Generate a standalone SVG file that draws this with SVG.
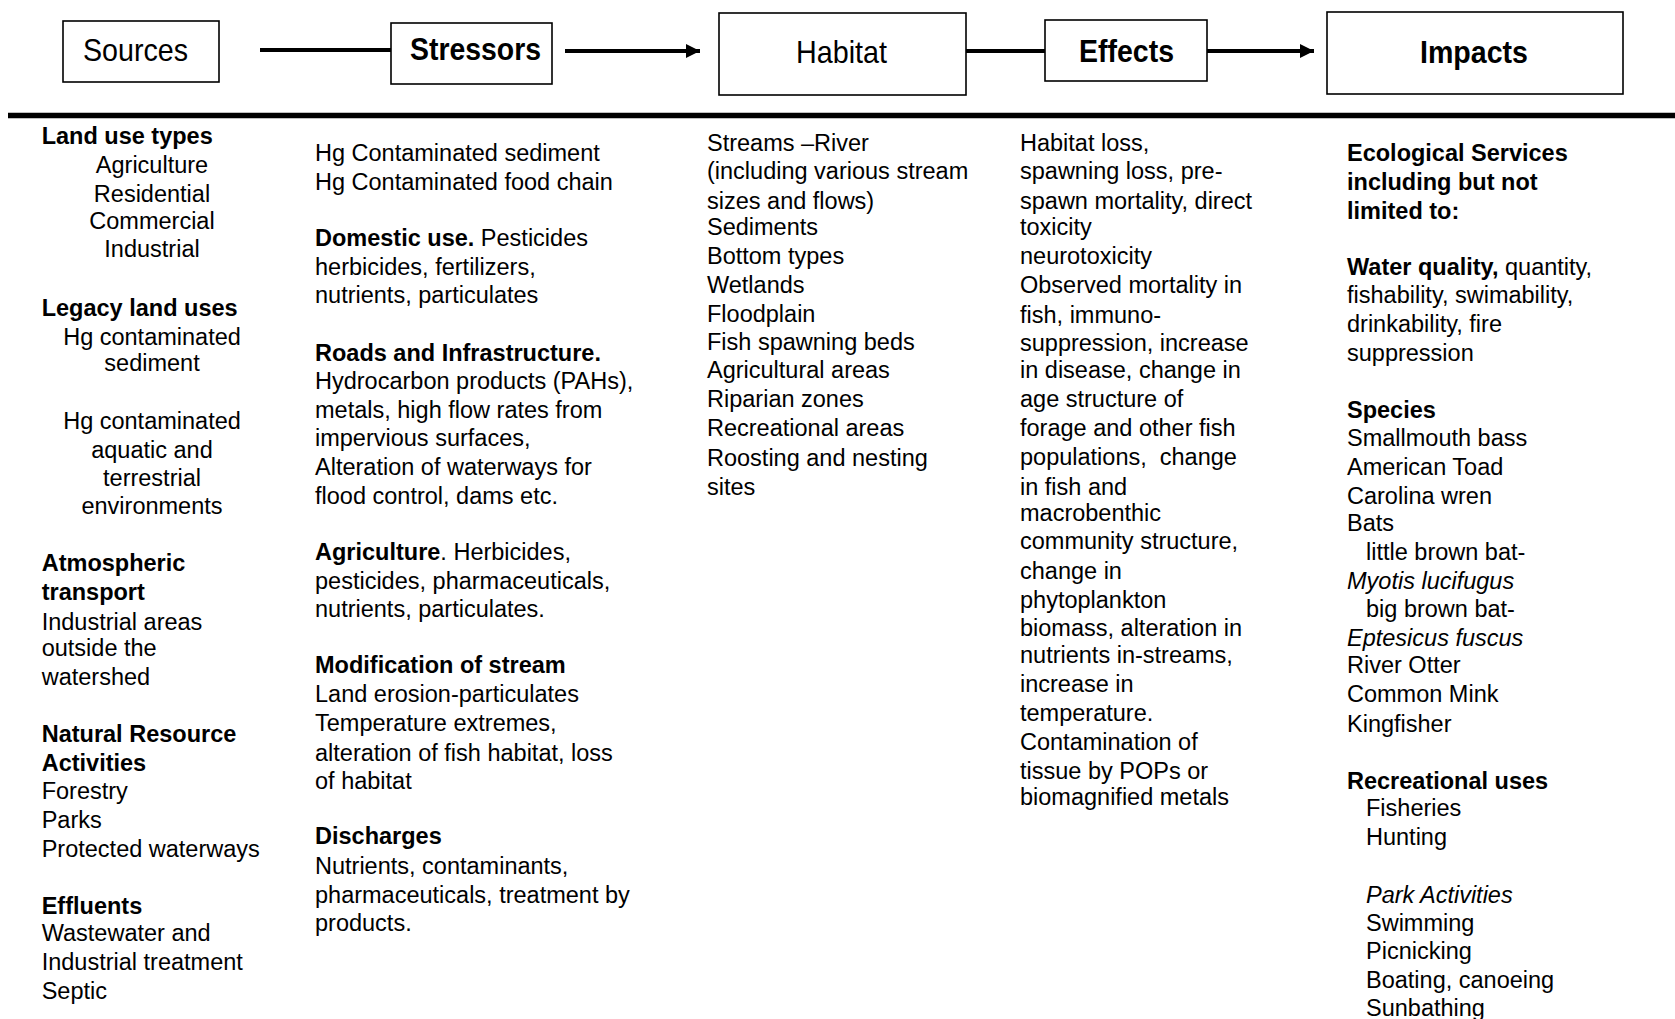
<svg xmlns="http://www.w3.org/2000/svg" width="1675" height="1019" viewBox="0 0 1675 1019">
<defs>
<style>
.bx{fill:#fff;stroke:#000;stroke-width:1.6}
.h{font-family:"Liberation Sans",Arial,sans-serif;font-size:32px;fill:#000}
.t{font-family:"Liberation Sans",Arial,sans-serif;font-size:23.5px;fill:#000}
.b{font-weight:bold}
.i{font-style:italic}
.c{text-anchor:middle}
.ln{stroke:#000;stroke-width:4;fill:none}
</style>
<marker id="ah" markerUnits="userSpaceOnUse" markerWidth="16" markerHeight="16" refX="14" refY="7" orient="auto">
<path d="M0,0 L14,7 L0,14 Z" fill="#000"/>
</marker>
</defs>
<rect width="1675" height="1019" fill="#fff"/>

<g id="connectors">
<line class="ln" x1="260" y1="50" x2="391" y2="50"/>
<line class="ln" x1="565" y1="51" x2="700" y2="51" marker-end="url(#ah)"/>
<line class="ln" x1="966" y1="51" x2="1045" y2="51"/>
<line class="ln" x1="1207" y1="51" x2="1314" y2="51" marker-end="url(#ah)"/>
<line x1="8" y1="115.5" x2="1675" y2="115.5" stroke="#000" stroke-width="5.5"/>
</g>

<g id="node-sources">
<rect class="bx" x="63" y="21" width="156" height="61"/>
<text class="h" x="83" y="61" textLength="105" lengthAdjust="spacingAndGlyphs">Sources</text>
</g>
<g id="node-stressors">
<rect class="bx" x="391" y="23" width="161" height="61"/>
<text class="h b" x="410" y="60" textLength="131" lengthAdjust="spacingAndGlyphs">Stressors</text>
</g>
<g id="node-habitat">
<rect class="bx" x="719" y="13" width="247" height="82"/>
<text class="h" x="796" y="63" textLength="91" lengthAdjust="spacingAndGlyphs">Habitat</text>
</g>
<g id="node-effects">
<rect class="bx" x="1045" y="20" width="162" height="61"/>
<text class="h b" x="1079" y="62" textLength="95" lengthAdjust="spacingAndGlyphs">Effects</text>
</g>
<g id="node-impacts">
<rect class="bx" x="1327" y="12" width="296" height="82"/>
<text class="h b" x="1420" y="63" textLength="108" lengthAdjust="spacingAndGlyphs">Impacts</text>
</g>

<g id="col-sources" transform="translate(0,1)">
<text class="t b" x="41.7" y="143.1">Land use types</text>
<text class="t c" x="152" y="172">Agriculture</text>
<text class="t c" x="152" y="200.8">Residential</text>
<text class="t c" x="152" y="227.5">Commercial</text>
<text class="t c" x="152" y="256.4">Industrial</text>
<text class="t b" x="41.7" y="315.1">Legacy land uses</text>
<text class="t c" x="152" y="344">Hg contaminated</text>
<text class="t c" x="152" y="369.6">sediment</text>
<text class="t c" x="152" y="428.3">Hg contaminated</text>
<text class="t c" x="152" y="457.2">aquatic and</text>
<text class="t c" x="152" y="485">terrestrial</text>
<text class="t c" x="152" y="512.7">environments</text>
<text class="t b" x="41.7" y="570.4">Atmospheric</text>
<text class="t b" x="41.7" y="599.3">transport</text>
<text class="t" x="41.7" y="629.2">Industrial areas</text>
<text class="t" x="41.7" y="654.8">outside the</text>
<text class="t" x="41.7" y="683.6">watershed</text>
<text class="t b" x="41.7" y="741.3">Natural Resource</text>
<text class="t b" x="41.7" y="770.2">Activities</text>
<text class="t" x="41.7" y="797.9">Forestry</text>
<text class="t" x="41.7" y="826.8">Parks</text>
<text class="t" x="41.7" y="855.6">Protected waterways</text>
<text class="t b" x="41.7" y="913.3">Effluents</text>
<text class="t" x="41.7" y="940">Wastewater and</text>
<text class="t" x="41.7" y="968.9">Industrial treatment</text>
<text class="t" x="41.7" y="997.7">Septic</text>
</g>

<g id="col-stressors" transform="translate(0,1)">
<text class="t" x="315" y="160.2">Hg Contaminated sediment</text>
<text class="t" x="315" y="189.1">Hg Contaminated food chain</text>
<text class="t" x="315" y="244.6"><tspan class="b">Domestic use.</tspan> Pesticides</text>
<text class="t" x="315" y="273.5">herbicides, fertilizers,</text>
<text class="t" x="315" y="302.3">nutrients, particulates</text>
<text class="t b" x="315" y="360">Roads and Infrastructure.</text>
<text class="t" x="315" y="387.8">Hydrocarbon products (PAHs),</text>
<text class="t" x="315" y="416.6">metals, high flow rates from</text>
<text class="t" x="315" y="445.4">impervious surfaces,</text>
<text class="t" x="315" y="474.3">Alteration of waterways for</text>
<text class="t" x="315" y="503.1">flood control, dams etc.</text>
<text class="t" x="315" y="558.7"><tspan class="b">Agriculture</tspan>. Herbicides,</text>
<text class="t" x="315" y="587.5">pesticides, pharmaceuticals,</text>
<text class="t" x="315" y="616.4">nutrients, particulates.</text>
<text class="t b" x="315" y="671.9">Modification of stream</text>
<text class="t" x="315" y="700.7">Land erosion-particulates</text>
<text class="t" x="315" y="729.6">Temperature extremes,</text>
<text class="t" x="315" y="759.5">alteration of fish habitat, loss</text>
<text class="t" x="315" y="788.3">of habitat</text>
<text class="t b" x="315" y="842.8">Discharges</text>
<text class="t" x="315" y="872.7">Nutrients, contaminants,</text>
<text class="t" x="315" y="901.6">pharmaceuticals, treatment by</text>
<text class="t" x="315" y="930.4">products.</text>
</g>

<g id="col-habitat" transform="translate(0,1)">
<text class="t" x="707" y="149.5">Streams –River</text>
<text class="t" x="707" y="178.4">(including various stream</text>
<text class="t" x="707" y="208.3">sizes and flows)</text>
<text class="t" x="707" y="233.9">Sediments</text>
<text class="t" x="707" y="262.8">Bottom types</text>
<text class="t" x="707" y="291.6">Wetlands</text>
<text class="t" x="707" y="320.5">Floodplain</text>
<text class="t" x="707" y="349.3">Fish spawning beds</text>
<text class="t" x="707" y="377.1">Agricultural areas</text>
<text class="t" x="707" y="405.9">Riparian zones</text>
<text class="t" x="707" y="434.8">Recreational areas</text>
<text class="t" x="707" y="464.7">Roosting and nesting</text>
<text class="t" x="707" y="493.5">sites</text>
</g>

<g id="col-effects" transform="translate(0,1)">
<text class="t" x="1020" y="149.5">Habitat loss,</text>
<text class="t" x="1020" y="178.4">spawning loss, pre-</text>
<text class="t" x="1020" y="208.3">spawn mortality, direct</text>
<text class="t" x="1020" y="234">toxicity</text>
<text class="t" x="1020" y="263">neurotoxicity</text>
<text class="t" x="1020" y="291.6">Observed mortality in</text>
<text class="t" x="1020" y="321.5">fish, immuno-</text>
<text class="t" x="1020" y="350.4">suppression, increase</text>
<text class="t" x="1020" y="377.1">in disease, change in</text>
<text class="t" x="1020" y="405.9">age structure of</text>
<text class="t" x="1020" y="434.8">forage and other fish</text>
<text class="t" x="1020" y="463.6">populations,&#160; change</text>
<text class="t" x="1020" y="493.5">in fish and</text>
<text class="t" x="1020" y="520.2">macrobenthic</text>
<text class="t" x="1020" y="548">community structure,</text>
<text class="t" x="1020" y="577.9">change in</text>
<text class="t" x="1020" y="606.7">phytoplankton</text>
<text class="t" x="1020" y="634.5">biomass, alteration in</text>
<text class="t" x="1020" y="662.3">nutrients in-streams,</text>
<text class="t" x="1020" y="691.1">increase in</text>
<text class="t" x="1020" y="720">temperature.</text>
<text class="t" x="1020" y="748.8">Contamination of</text>
<text class="t" x="1020" y="777.6">tissue by POPs or</text>
<text class="t" x="1020" y="804.4">biomagnified metals</text>
</g>

<g id="col-impacts" transform="translate(0,1)">
<text class="t b" x="1347" y="160.2">Ecological Services</text>
<text class="t b" x="1347" y="189.1">including but not</text>
<text class="t b" x="1347" y="217.9">limited to:</text>
<text class="t" x="1347" y="273.5"><tspan class="b">Water quality,</tspan> quantity,</text>
<text class="t" x="1347" y="302.3">fishability, swimability,</text>
<text class="t" x="1347" y="331.1">drinkability, fire</text>
<text class="t" x="1347" y="360">suppression</text>
<text class="t b" x="1347" y="416.6">Species</text>
<text class="t" x="1347" y="445.4">Smallmouth bass</text>
<text class="t" x="1347" y="474.3">American Toad</text>
<text class="t" x="1347" y="503.1">Carolina wren</text>
<text class="t" x="1347" y="529.8">Bats</text>
<text class="t" x="1366" y="558.7">little brown bat-</text>
<text class="t i" x="1347" y="587.5">Myotis lucifugus</text>
<text class="t" x="1366" y="616.4">big brown bat-</text>
<text class="t i" x="1347" y="645.2">Eptesicus fuscus</text>
<text class="t" x="1347" y="671.9">River Otter</text>
<text class="t" x="1347" y="700.7">Common Mink</text>
<text class="t" x="1347" y="730.7">Kingfisher</text>
<text class="t b" x="1347" y="788.3">Recreational uses</text>
<text class="t" x="1366" y="815">Fisheries</text>
<text class="t" x="1366" y="843.9">Hunting</text>
<text class="t i" x="1366" y="901.6">Park Activities</text>
<text class="t" x="1366" y="930.4">Swimming</text>
<text class="t" x="1366" y="958.2">Picnicking</text>
<text class="t" x="1366" y="987">Boating, canoeing</text>
<text class="t" x="1366" y="1014.8">Sunbathing</text>
</g>
</svg>
